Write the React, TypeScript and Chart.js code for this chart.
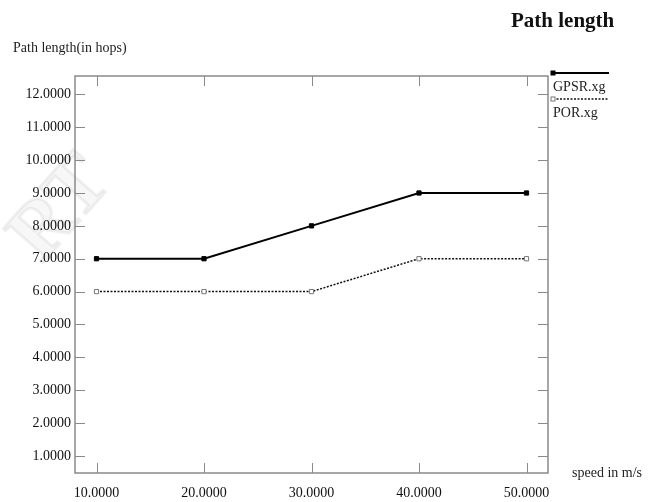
import React, { useEffect, useRef } from "react";
import { Chart, registerables } from "chart.js";

Chart.register(...registerables);

const speeds = [10, 20, 30, 40, 50];
const gpsrValues = [7, 7, 8, 9, 9];
const porValues = [6, 6, 6, 7, 7];
const xTickValues = [10, 20, 30, 40, 50];
const yTickValues = [1, 2, 3, 4, 5, 6, 7, 8, 9, 10, 11, 12];
const seriesNames = ["GPSR.xg", "POR.xg"];
const chartTitle = "Path length";
const yTitle = "Path length(in hops)";
const xTitle = "speed in m/s";

const SERIF = "'Liberation Serif', 'Times New Roman', serif";

const framePlugin = {
  id: "xgFrame",
  beforeDatasetsDraw(chart: any) {
    const { ctx, chartArea } = chart;
    const { left, right, top, bottom } = chartArea;
    const xs = chart.scales.x;
    const ys = chart.scales.y;
    ctx.save();
    // faint watermark
    ctx.save();
    ctx.translate(62, 210);
    ctx.rotate(-0.85);
    ctx.font = `bold 80px ${SERIF}`;
    ctx.strokeStyle = "rgba(0,0,0,0.06)";
    ctx.fillStyle = "rgba(0,0,0,0.03)";
    ctx.lineWidth = 3;
    ctx.textAlign = "center";
    ctx.textBaseline = "middle";
    ctx.fillText("RT", 0, 0);
    ctx.strokeText("RT", 0, 0);
    ctx.restore();

    ctx.strokeStyle = "#8a8a8a";
    ctx.lineWidth = 1.5;
    ctx.strokeRect(left, top, right - left, bottom - top);
    ctx.lineWidth = 1;
    const tl = 10;
    ctx.beginPath();
    xTickValues.forEach((v) => {
      const px = Math.round(xs.getPixelForValue(v)) + 0.5;
      ctx.moveTo(px, bottom);
      ctx.lineTo(px, bottom - tl);
      ctx.moveTo(px, top);
      ctx.lineTo(px, top + tl);
    });
    yTickValues.forEach((v) => {
      const py = Math.round(ys.getPixelForValue(v)) + 0.5;
      ctx.moveTo(left, py);
      ctx.lineTo(left + tl, py);
      ctx.moveTo(right, py);
      ctx.lineTo(right - tl, py);
    });
    ctx.stroke();
    ctx.restore();
  },
  afterDraw(chart: any) {
    const { ctx, chartArea } = chart;
    const { right, top, bottom } = chartArea;
    ctx.save();
    ctx.fillStyle = "#111";
    ctx.textBaseline = "alphabetic";
    // title
    ctx.font = `bold 21px ${SERIF}`;
    ctx.textAlign = "left";
    ctx.fillText(chartTitle, 511, 27);
    // y title
    ctx.font = `14px ${SERIF}`;
    ctx.fillStyle = "#222";
    ctx.fillText(yTitle, 13, 52);
    // x title
    ctx.fillText(xTitle, 572, bottom + 4);
    // legend
    const lx = right + 5;
    const lx2 = lx + 56;
    chart.data.datasets.forEach((ds: any, i: number) => {
      const ly = top - 3 + i * 26;
      ctx.save();
      ctx.strokeStyle = ds.borderColor;
      ctx.lineWidth = ds.borderWidth;
      ctx.setLineDash(ds.borderDash || []);
      ctx.beginPath();
      ctx.moveTo(lx, ly);
      ctx.lineTo(lx2, ly);
      ctx.stroke();
      ctx.setLineDash([]);
      ctx.lineWidth = 1;
      if (ds.pointBackgroundColor === "#fff") {
        ctx.fillStyle = "#fff";
        ctx.fillRect(lx - 2, ly - 2, 4, 4);
        ctx.strokeStyle = "#777";
        ctx.strokeRect(lx - 2, ly - 2, 4, 4);
      } else {
        ctx.fillStyle = "#000";
        ctx.fillRect(lx - 2.5, ly - 2.5, 5, 5);
      }
      ctx.restore();
      ctx.font = `14px ${SERIF}`;
      ctx.fillStyle = "#222";
      ctx.textAlign = "left";
      ctx.fillText(ds.label, lx, ly + 18);
    });
    ctx.restore();
  },
};

export default function App() {
  const canvasRef = useRef<HTMLCanvasElement | null>(null);

  useEffect(() => {
    document.body.style.margin = "0";
    const canvas = canvasRef.current;
    if (!canvas) return;
    const chart = new Chart(canvas, {
      type: "line",
      data: {
        datasets: [
          {
            label: seriesNames[0],
            data: speeds.map((s, i) => ({ x: s, y: gpsrValues[i] })),
            borderColor: "#000",
            borderWidth: 2,
            pointStyle: "rect",
            pointRadius: 3,
            pointBackgroundColor: "#000",
            pointBorderColor: "#000",
            pointBorderWidth: 1,
            tension: 0,
          },
          {
            label: seriesNames[1],
            data: speeds.map((s, i) => ({ x: s, y: porValues[i] })),
            borderColor: "#111",
            borderWidth: 1.5,
            borderDash: [2, 1.5],
            pointStyle: "rect",
            pointRadius: 3,
            pointBackgroundColor: "#fff",
            pointBorderColor: "#777",
            pointBorderWidth: 1,
            tension: 0,
          },
        ],
      },
      options: {
        animation: false,
        responsive: false,
        layout: { padding: { left: 0, top: 76, right: 107, bottom: 0 } },
        plugins: {
          legend: { display: false },
          title: { display: false },
          tooltip: { enabled: false },
        },
        scales: {
          x: {
            type: "linear",
            min: 8,
            max: 52,
            afterBuildTicks: (scale: any) => {
              scale.ticks = xTickValues.map((v) => ({ value: v }));
            },
            afterFit: (scale: any) => {
              scale.height = 29;
            },
            grid: { display: false, drawTicks: false },
            border: { display: false },
            ticks: {
              padding: 12,
              maxRotation: 0,
              autoSkip: false,
              color: "#111",
              font: { family: SERIF, size: 14 },
              callback: (v: any) => Number(v).toFixed(4),
            },
          },
          y: {
            type: "linear",
            min: 0.48,
            max: 12.56,
            afterBuildTicks: (scale: any) => {
              scale.ticks = yTickValues.map((v) => ({ value: v }));
            },
            afterFit: (scale: any) => {
              scale.width = 75;
            },
            grid: { display: false, drawTicks: false },
            border: { display: false },
            ticks: {
              padding: 4,
              autoSkip: false,
              color: "#111",
              font: { family: SERIF, size: 14 },
              callback: (v: any) => Number(v).toFixed(4),
            },
          },
        },
      },
      plugins: [framePlugin],
    } as any);
    return () => chart.destroy();
  }, []);

  return (
    <div style={{ width: 655, height: 502 }}>
      <canvas ref={canvasRef} width={655} height={502} style={{ width: 655, height: 502, display: "block" }} />
    </div>
  );
}
